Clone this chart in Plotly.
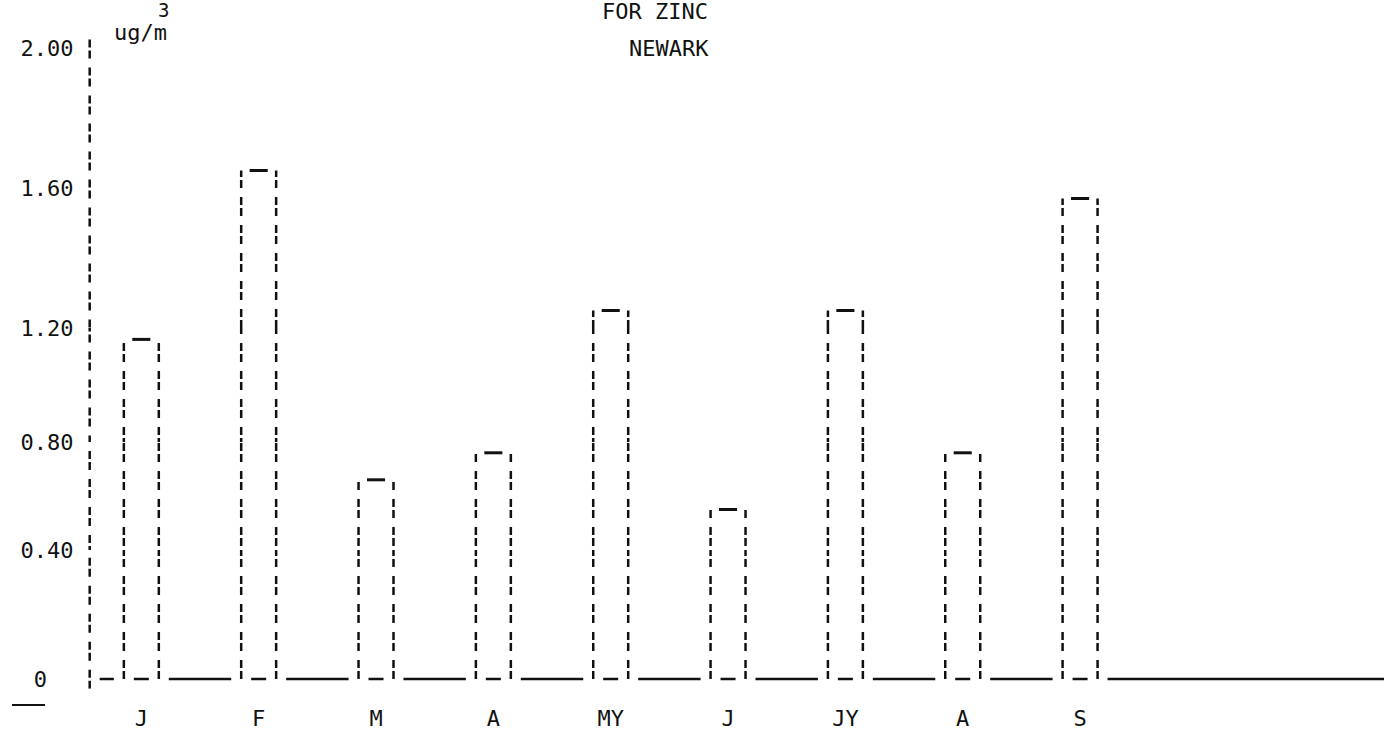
import plotly.graph_objects as go

# Monthly mean zinc concentration, Newark (ug/m3)
months = ["J", "F", "M", "A", "MY", "J", "JY", "A", "S"]
zinc = [1.16, 1.65, 0.66, 0.76, 1.25, 0.55, 1.25, 0.76, 1.57]

tick_values = [0, 0.4, 0.8, 1.2, 1.6, 2.0]
tick_labels = ["0\u00a0\u00a0", "0.40", "0.80", "1.20", "1.60", "2.00"]

W, H = 1384, 738
# Printed row (px from top) of each value-axis label.  The printer's row
# spacing is uneven, so the value axis is built from one band per interval.
tick_rows = [679, 550, 442, 328, 188, 48]
pad = 0.03  # axis overshoot below 0 and above 2.00

ink = "#111111"
font = dict(family="DejaVu Sans Mono", size=22, color=ink)
dash = "8px,3px,8px,9px"

x_range = [-0.48, 10.59]
x_dom0 = 85 / W
axis_x = -0.44
half = 0.149   # half bar width
cap = 0.077    # half width of the cap stroke
gap = 0.085    # gap between baseline strokes and dashed sides

xpos = list(range(len(months)))

# bar outlines
sx, sy, cx, cy = [], [], [], []
for i, v in zip(xpos, zinc):
    sx += [i - half, i - half, None, i + half, i + half, None]
    sy += [0, v, None, 0, v, None]
    cx += [i - cap, i + cap, None]
    cy += [v, v, None]

# baseline broken around the dashed sides
bx, by = [], []
start = axis_x + gap
for i in xpos:
    bx += [start, i - half - gap, None, i - half + gap, i + half - gap, None]
    by += [0, 0, None, 0, 0, None]
    start = i + half + gap
bx += [start, x_range[1]]
by += [0, 0]

fig = go.Figure()
layout = dict(
    template="none",
    width=W, height=H,
    margin=dict(l=0, r=0, t=0, b=0, pad=0),
    paper_bgcolor="white", plot_bgcolor="white",
    showlegend=False,
    font=font,
    xaxis=dict(
        domain=[x_dom0, 1], range=x_range, anchor="y", automargin=False,
        tickmode="array", tickvals=xpos, ticktext=months,
        showgrid=False, zeroline=False, showline=False,
        ticks="outside", ticklen=10, tickcolor="rgba(0,0,0,0)",
        tickfont=font,
    ),
)

nb = len(tick_values) - 1
for k in range(nb):
    lo, hi = tick_values[k], tick_values[k + 1]
    r_lo, r_hi = tick_rows[k], tick_rows[k + 1]
    px_per = (r_lo - r_hi) / (hi - lo)
    v_lo = lo - (pad if k == 0 else 0)
    v_hi = hi + (pad if k == nb - 1 else 0)
    row_lo = r_lo + (lo - v_lo) * px_per
    row_hi = r_hi - (v_hi - hi) * px_per
    name = "y" if k == 0 else f"y{k + 1}"
    key = "yaxis" if k == 0 else f"yaxis{k + 1}"
    tv = [lo] + ([hi] if k == nb - 1 else [])
    tt = [tick_labels[k]] + ([tick_labels[k + 1]] if k == nb - 1 else [])
    layout[key] = dict(
        domain=[1 - row_lo / H, 1 - row_hi / H], range=[v_lo, v_hi], anchor="x",
        automargin=False,
        tickmode="array", tickvals=tv, ticktext=tt,
        showgrid=False, zeroline=False, showline=False,
        ticks="outside", ticklen=6, tickcolor="rgba(0,0,0,0)",
        tickfont=font,
    )
    # value axis drawn as a broken vertical rule
    fig.add_trace(go.Scatter(x=[axis_x, axis_x], y=[-pad, 2 + pad], mode="lines",
                             line=dict(color=ink, width=2.5, dash=dash),
                             xaxis="x", yaxis=name, hoverinfo="skip"))
    fig.add_trace(go.Scatter(x=sx, y=sy, mode="lines",
                             line=dict(color=ink, width=2.5, dash=dash),
                             xaxis="x", yaxis=name, hoverinfo="skip"))
    fig.add_trace(go.Scatter(x=cx, y=cy, mode="lines",
                             line=dict(color=ink, width=3),
                             xaxis="x", yaxis=name, hoverinfo="skip"))
    if k == 0:
        fig.add_trace(go.Scatter(x=bx, y=by, mode="lines",
                                 line=dict(color=ink, width=2.5),
                                 xaxis="x", yaxis=name, hoverinfo="skip"))

fig.update_layout(**layout)

def label(text, px, py, size=22):
    fig.add_annotation(text=text, x=px / W, y=1 - py / H, xref="paper", yref="paper",
                       xanchor="center", yanchor="middle", showarrow=False,
                       font=dict(font, size=size))

label("3", 163, 10, size=19)
label("ug/m", 140, 32)
label("FOR ZINC", 655, 11)
label("NEWARK", 669, 48)

fig.add_shape(type="line", xref="paper", yref="paper",
              x0=12 / W, x1=45 / W, y0=1 - 705 / H, y1=1 - 705 / H,
              line=dict(color=ink, width=2))

fig.write_html("out.html")
